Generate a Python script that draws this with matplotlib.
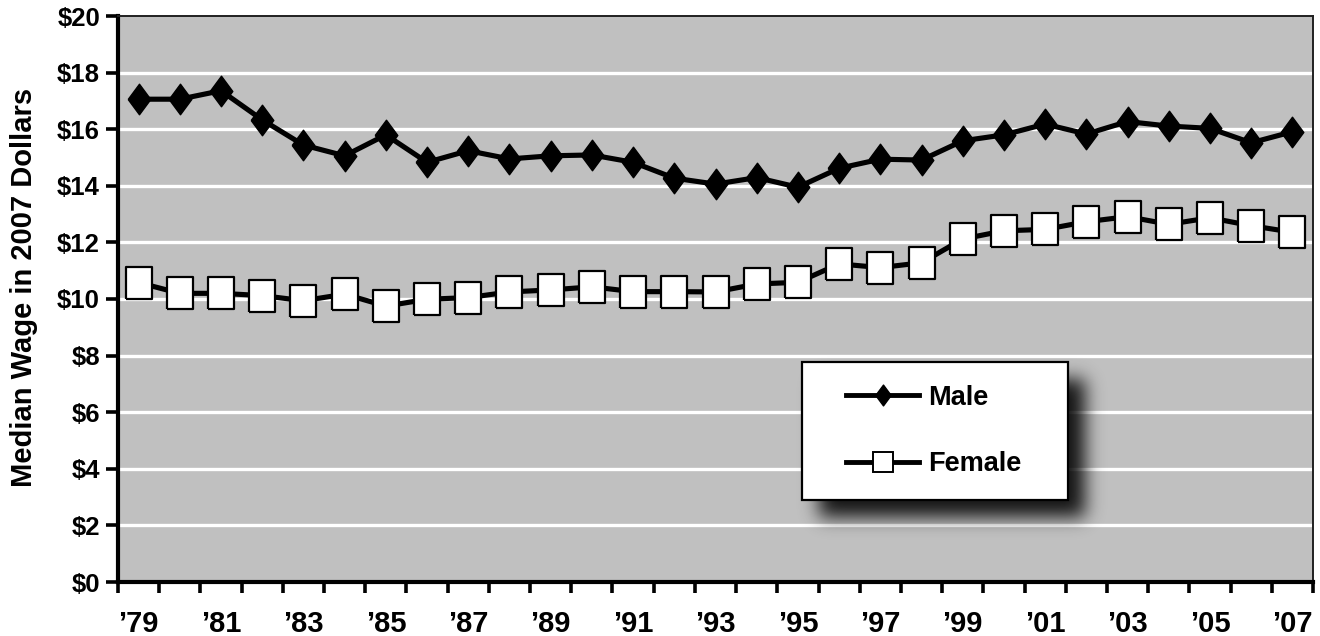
import numpy as np
import matplotlib
matplotlib.use("Agg")
import matplotlib.pyplot as plt
from matplotlib.lines import Line2D
from matplotlib.patches import Rectangle

plt.rcParams['font.family'] = ['Liberation Sans', 'DejaVu Sans']
plt.rcParams['font.weight'] = 'bold'

# median hourly wage, 2007 dollars, 1979-2007
years = list(range(1979, 2008))
male = [17.06, 17.06, 17.36, 16.33, 15.44, 15.06, 15.80, 14.83, 15.24, 14.95,
        15.06, 15.09, 14.83, 14.27, 14.06, 14.29, 13.95, 14.62, 14.94, 14.91,
        15.59, 15.80, 16.18, 15.83, 16.27, 16.11, 16.03, 15.52, 15.91]
female = [10.58, 10.20, 10.20, 10.12, 9.94, 10.17, 9.75, 9.99, 10.05, 10.25,
          10.32, 10.43, 10.26, 10.26, 10.25, 10.53, 10.59, 11.24, 11.11, 11.28,
          12.12, 12.41, 12.46, 12.73, 12.91, 12.64, 12.87, 12.59, 12.36]
tick_years = years[::2]
tick_labels = ["\u2019%02d" % (y % 100) for y in tick_years]
y_ticks = list(range(0, 21, 2))

W, H = 1320, 636
fig = plt.figure(figsize=(W / 100, H / 100), dpi=100)
ax_l, ax_r, ax_t, ax_b = 118, 1313, 16, 582
ax = fig.add_axes([ax_l / W, 1 - ax_b / H, (ax_r - ax_l) / W, (ax_b - ax_t) / H])
ax.set_facecolor('#c0c0c0')

x = np.arange(len(years))

# tall diamond and slightly tall box markers
diamond = [(-0.74, 0), (0, 1), (0.74, 0), (0, -1), (-0.74, 0)]
box = [(-0.84, -1), (0.84, -1), (0.84, 1), (-0.84, 1), (-0.84, -1)]

ax.plot(x, male, color='black', lw=3.7, marker=diamond, ms=22,
        mfc='black', mec='black', mew=1, zorder=3, solid_joinstyle='round')
ax.plot(x, female, color='black', lw=3.7, marker=box, ms=23,
        mfc='white', mec='black', mew=1.6, zorder=3)

ax.set_xlim(-0.5, len(years) - 0.5)
ax.set_ylim(0, 20)

for v in y_ticks[1:-1]:
    ax.axhline(v, color='white', lw=2.4, zorder=1)

ax.set_yticks(y_ticks)
ax.set_yticklabels(['$%d' % v for v in y_ticks], fontsize=18.5, fontweight='bold')
ax.tick_params(axis='y', length=9, width=2.6, pad=4)

ax.set_xticks(x[::2])
ax.set_xticklabels(tick_labels, fontsize=21, fontweight='bold')
ax.set_xticks(np.arange(-0.5, len(years), 1), minor=True)
ax.tick_params(axis='x', which='major', length=0, pad=20)
ax.tick_params(axis='x', which='minor', length=8, width=2.6)

for side in ('left', 'bottom'):
    ax.spines[side].set_linewidth(3)
for side in ('top', 'right'):
    ax.spines[side].set_linewidth(1.4)
    ax.spines[side].set_color('#202020')

ax.set_ylabel('Median Wage in 2007 Dollars', fontsize=21, fontweight='bold')
ax.yaxis.set_label_coords(-0.067, 0.52)


def frac(px, py):
    return (px - ax_l) / (ax_r - ax_l), (ax_b - py) / (ax_b - ax_t)


# legend box with a soft drop shadow
bx0, by0, bx1, by1 = 802, 362, 1068, 500
gx0, gy0, gx1, gy1 = 780, 340, 1150, 580
gw, gh = gx1 - gx0, gy1 - gy0
mask = np.zeros((gh, gw))
off = 17
mask[by0 - gy0 + off:by1 - gy0 + off, bx0 - gx0 + off:bx1 - gx0 + off] = 1.0
sig = 9.0
k = np.arange(-28, 29)
kern = np.exp(-k ** 2 / (2 * sig ** 2))
kern /= kern.sum()
mask = np.apply_along_axis(lambda r: np.convolve(r, kern, mode='same'), 1, mask)
mask = np.apply_along_axis(lambda c: np.convolve(c, kern, mode='same'), 0, mask)
shadow = np.zeros((gh, gw, 4))
shadow[..., 3] = mask * 0.9
ex0, ey1 = frac(gx0, gy0)
ex1, ey0 = frac(gx1, gy1)
ax.imshow(shadow, extent=(ex0, ex1, ey0, ey1), transform=ax.transAxes,
          aspect='auto', interpolation='bilinear', zorder=4)
ax.set_xlim(-0.5, len(years) - 0.5)
ax.set_ylim(0, 20)

fx0, fy1 = frac(bx0, by0)
fx1, fy0 = frac(bx1, by1)
ax.add_patch(Rectangle((fx0, fy0), fx1 - fx0, fy1 - fy0, transform=ax.transAxes,
                       facecolor='white', edgecolor='black', lw=1.6, zorder=5))

handles = [
    Line2D([], [], color='black', lw=3.5, marker=diamond, ms=15,
           mfc='black', mec='black'),
    Line2D([], [], color='black', lw=3.5, marker='s', ms=14,
           mfc='white', mec='black', mew=1.4),
]
lx, ly = frac(846, 431)
leg = ax.legend(handles, ['Male', 'Female'], loc='center left',
                bbox_to_anchor=(lx, ly), frameon=False, borderpad=0,
                borderaxespad=0, handlelength=2.7, handletextpad=0.35,
                labelspacing=1.5, numpoints=1,
                prop={'size': 19.5, 'weight': 'bold'})
leg.set_zorder(6)

fig.savefig('out.png', dpi=100)
